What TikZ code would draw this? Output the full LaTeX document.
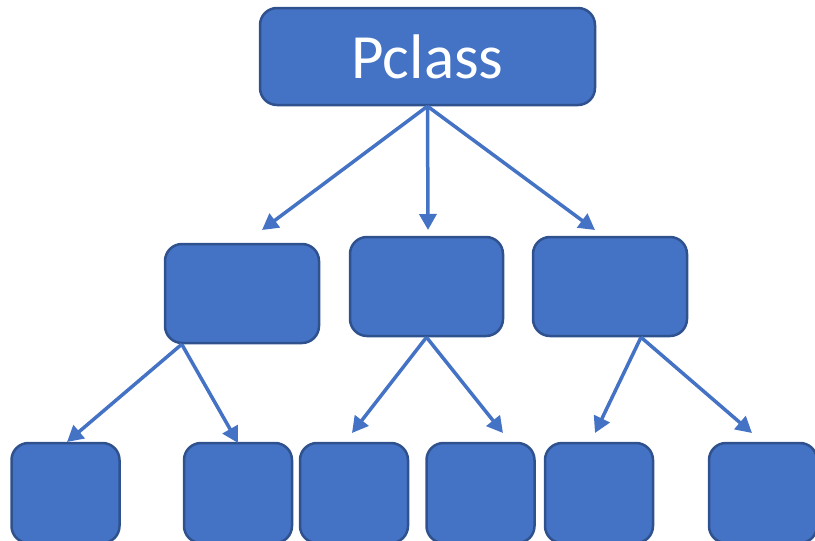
\documentclass[tikz,border=0pt]{standalone}
\usepackage{fontspec}
\setmainfont{Carlito}
\usetikzlibrary{positioning, calc, arrows.meta}
\definecolor{boxblue}{HTML}{4472C4}
\definecolor{boxedge}{HTML}{2F528F}

\begin{document}
\begin{tikzpicture}[x=1pt, y=-1pt,
    box/.style={rectangle, rounded corners=17pt, draw=boxedge, line width=2.5pt, fill=boxblue, inner sep=0pt},
    leaf/.style={box, minimum width=108pt, minimum height=100pt},
    link/.style={draw=boxblue, line width=3.5pt, -{Triangle[length=16pt, width=17pt]}}]
			\useasboundingbox (0,0) rectangle (815,541);
			% Define the nodes
			\node (pclass) [box, minimum width=335pt, minimum height=97pt, text=white, font=\fontsize{63}{63}\selectfont] at (427.5,56.5) {Pclass};
			\node (midA) [box, minimum width=154pt, minimum height=99pt] at (242,293.5) {};
			\node (midB) [box, minimum width=153pt, minimum height=99pt] at (426.5,286.5) {};
			\node (midC) [box, minimum width=154pt, minimum height=99pt] at (610,286.5) {};
			\node (leafA) [leaf] at (65.5,493) {};
			\node (leafB) [leaf] at (238,493) {};
			\node (leafC) [leaf] at (354,493) {};
			\node (leafD) [leaf] at (480.5,493) {};
			\node (leafE) [leaf] at (599,493) {};
			\node (leafF) [leaf] at (763,493) {};
			% Arrow tips
			\coordinate (tipA) at (262,230);
			\coordinate (tipB) at (428,230);
			\coordinate (tipC) at (595,230);
			\coordinate (tipAA) at (67,442);
			\coordinate (tipAB) at (238,443);
			\coordinate (tipBA) at (352,433);
			\coordinate (tipBB) at (503,433);
			\coordinate (tipCA) at (595,433);
			\coordinate (tipCB) at (752,433);
			% Connect the nodes
			\draw [link] (pclass.south) -- (tipA);
			\draw [link] (pclass.south) -- (tipB);
			\draw [link] (pclass.south) -- (tipC);
			\draw [link] ([xshift=18pt]midA.south west) -- (tipAA);
			\draw [link] ([xshift=18pt]midA.south west) -- (tipAB);
			\draw [link] (midB.south) -- (tipBA);
			\draw [link] (midB.south) -- (tipBB);
			\draw [link] ([xshift=31pt]midC.south) -- (tipCA);
			\draw [link] ([xshift=31pt]midC.south) -- (tipCB);
		\end{tikzpicture}
\end{document}
